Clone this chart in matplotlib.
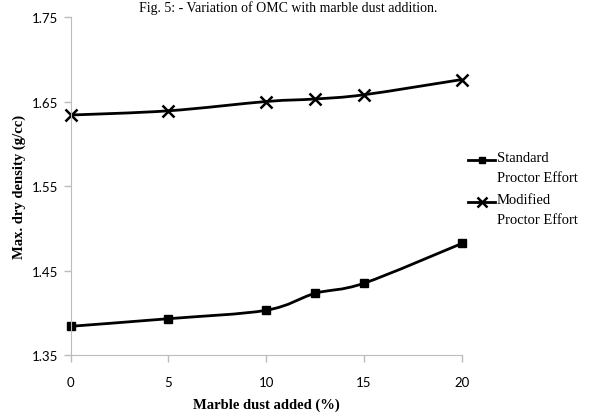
import numpy as np
import matplotlib
matplotlib.use("Agg")
import matplotlib.pyplot as plt
from matplotlib.path import Path
from matplotlib.patches import PathPatch
from matplotlib.lines import Line2D

# data
marble = [0, 5, 10, 12.5, 15, 20]
standard = [1.384, 1.393, 1.403, 1.423, 1.435, 1.482]
modified = [1.634, 1.639, 1.650, 1.653, 1.658, 1.676]
yticks = [1.35, 1.45, 1.55, 1.65, 1.75]
xticks = [0, 5, 10, 15, 20]
names = ["Standard\nProctor Effort", "Modified\nProctor Effort"]

serif = ["Liberation Serif", "DejaVu Serif"]
narrow = ["Lato", "DejaVu Sans"]

W, H = 589, 414


def smooth_path(x, y, t=0.5):
    # excel-like smoothed line: cubic bezier through the points
    x, y = np.asarray(x, float), np.asarray(y, float)
    verts = [(x[0], y[0])]
    codes = [Path.MOVETO]
    n = len(x)
    for i in range(n - 1):
        x0, y0 = (x[i - 1], y[i - 1]) if i > 0 else (x[i], y[i])
        x3, y3 = (x[i + 2], y[i + 2]) if i + 2 < n else (x[i + 1], y[i + 1])
        c1 = (x[i] + (x[i + 1] - x0) * t / 3, y[i] + (y[i + 1] - y0) * t / 3)
        c2 = (x[i + 1] - (x3 - x[i]) * t / 3, y[i + 1] - (y3 - y[i]) * t / 3)
        verts += [c1, c2, (x[i + 1], y[i + 1])]
        codes += [Path.CURVE4] * 3
    return Path(verts, codes)


fig = plt.figure(figsize=(5.89, 4.14), dpi=100)
ax = fig.add_axes([0.120, 0.140, 0.664, 0.8165])

styles = [("s", 6, 1), ("x", 8, 1.8)]
for ys, (mk, ms, mew) in zip([standard, modified], styles):
    ax.add_patch(PathPatch(smooth_path(marble, ys), fill=False, ec="black", lw=2))
    ax.plot(marble, ys, ls="none", marker=mk, ms=ms, mew=mew, color="black", clip_on=False)

ax.set_xlim(0, 20)
ax.set_ylim(1.35, 1.75)
ax.set_xticks(xticks)
ax.set_yticks(yticks)
ax.set_xticklabels([str(v) for v in xticks], family=narrow, fontsize=9.5)
ax.set_yticklabels(["%.2f" % v for v in yticks], family=narrow, fontsize=9.5)
for s in ["top", "right"]:
    ax.spines[s].set_visible(False)
for s in ["left", "bottom"]:
    ax.spines[s].set_color("#bcbcbc")
ax.tick_params(color="#bcbcbc", length=5, width=1, pad=4)
ax.tick_params(axis="x", pad=10)

ax.set_xlabel("Marble dust added (%)", family=serif, fontweight="bold", fontsize=10.5, labelpad=7)
ax.set_ylabel("Max. dry density (g/cc)", family=serif, fontweight="bold", fontsize=10.5, labelpad=4)

# legend drawn by hand so the key sits on the first text line, like excel
for i, ((mk, ms, mew), name) in enumerate(zip(styles, names)):
    yk = 1 - (161 + 42 * i) / H
    fig.add_artist(Line2D([468 / W, 495 / W], [yk, yk], color="black", lw=2))
    fig.add_artist(Line2D([481.5 / W], [yk], color="black", marker=mk, ms=ms - 1, mew=mew))
    fig.text(497 / W, yk + 9 / H, name, ha="left", va="top", family=serif,
             fontsize=10.5, linespacing=1.75)

fig.text(0.49, 1 - 1 / H, "Fig. 5: - Variation of OMC with marble dust addition.",
         ha="center", va="top", family=serif, fontsize=10)

fig.savefig("out.png", dpi=100)
